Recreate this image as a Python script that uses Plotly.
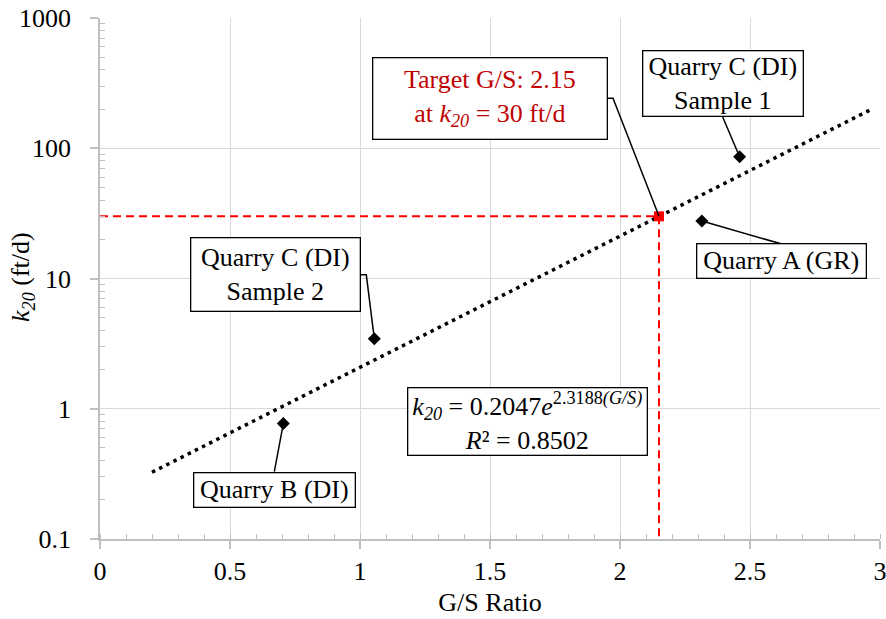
import math
import plotly.graph_objects as go

# Measured samples: G/S ratio vs. k20 (ft/d)
sample_names = ["Quarry B (DI)", "Quarry C (DI)<br>Sample 2", "Quarry A (GR)", "Quarry C (DI)<br>Sample 1"]
gs_ratio = [0.705, 1.055, 2.315, 2.46]
k20 = [0.77, 3.45, 27.6, 86.0]

# Exponential fit k20 = a * exp(b * G/S)
fit_a = 0.2047
fit_b = 2.3188
fit_r2 = 0.8502
fit_x_span = [0.2, 2.97]

# Design target
target_gs = 2.15
target_k20 = 30.0

# Axis ticks
x_ticks = [0, 0.5, 1, 1.5, 2, 2.5, 3]
y_ticks = [0.1, 1, 10, 100, 1000]
y_tick_text = ["0.1", "1", "10", "100", "1000"]

FONT = "'Liberation Serif', 'Times New Roman', Tinos, 'DejaVu Serif', serif"
FS = 26
GRID = "#d9d9d9"
AXIS = "#bfbfbf"

fit_y_span = [fit_a * math.exp(fit_b * x) for x in fit_x_span]

fig = go.Figure()

# Target guide lines
fig.add_trace(go.Scatter(
    x=[0, target_gs, target_gs], y=[target_k20, target_k20, 0.1],
    mode="lines", line=dict(color="#ff0000", width=2, dash="8px,5px"),
    hoverinfo="skip", showlegend=False, cliponaxis=False))

# Trendline (straight on a log axis)
fig.add_trace(go.Scatter(
    x=fit_x_span, y=fit_y_span, mode="lines",
    line=dict(color="black", width=3.5, dash="3.5px,4.5px"),
    showlegend=False))

# Samples
fig.add_trace(go.Scatter(
    x=gs_ratio, y=k20, mode="markers",
    marker=dict(symbol="diamond", size=10, color="black"),
    showlegend=False))

# Target point
fig.add_trace(go.Scatter(
    x=[target_gs], y=[target_k20], mode="markers",
    marker=dict(symbol="square", size=10, color="#ff0000"),
    showlegend=False))

# Label boxes: (text, anchor x, anchor y, xshift, yshift, width, height, color, connector path)
labels = [
    (sample_names[0], gs_ratio[0], k20[0], -9, -66, 162, 35, "black", "M0,0 L-9,-48"),
    (sample_names[1], gs_ratio[1], k20[1], -99, 64, 170, 74, "black", "M0,0 L-8,64 L-14,64"),
    (sample_names[2], gs_ratio[2], k20[2], 80, -40, 170, 35, "black", "M0,0 L80,-23"),
    (sample_names[3], gs_ratio[3], k20[3], -17, 73, 161, 66, "black", "M0,0 L-17,40"),
    ("Target G/S: 2.15<br>at <i>k<sub>20</sub></i> = 30 ft/d", target_gs, target_k20,
     -169, 118, 235, 82, "#c00000", "M0,0 L-46,118 L-52,118"),
]

shapes = []
annotations = []
for text, ax_x, ax_y, dx, dy, w, h, col, path in labels:
    shapes.append(dict(
        type="path", xref="x", yref="y", xsizemode="pixel", ysizemode="pixel",
        xanchor=ax_x, yanchor=ax_y, path=path,
        line=dict(color="black", width=1.5), layer="above"))
    annotations.append(dict(
        text=text, x=ax_x, y=math.log10(ax_y), xref="x", yref="y",
        xshift=dx, yshift=dy, xanchor="center", yanchor="middle",
        showarrow=False, width=w - 4, height=h - 4, borderpad=1,
        bgcolor="white", bordercolor="black", borderwidth=1.3,
        font=dict(family=FONT, size=FS, color=col)))

# Fit equation box
annotations.append(dict(
    text=(f"<i>k<sub>20</sub></i> = {fit_a}<i>e</i><sup>{fit_b}<i>(G/S)</i></sup>"
          f"<br><i>R</i>² = {fit_r2}"),
    x=0.5487, y=0.2246, xref="paper", yref="paper",
    xanchor="center", yanchor="middle", showarrow=False,
    width=236, height=64, borderpad=1,
    bgcolor="white", bordercolor="black", borderwidth=1.3,
    font=dict(family=FONT, size=FS, color="black")))

# Y-axis title, placed as rotated text left of the tick labels
annotations.append(dict(
    text="<i>k<sub>20</sub></i> (ft/d)", x=-0.1, y=0.503,
    xref="paper", yref="paper", xanchor="center", yanchor="middle",
    textangle=-90, showarrow=False,
    font=dict(family=FONT, size=FS, color="black")))

minor_y = [k * 10 ** e for e in range(-1, 3) for k in range(2, 10)]

fig.update_layout(
    width=886, height=619,
    margin=dict(l=100, r=6, t=18, b=80),
    paper_bgcolor="white", plot_bgcolor="white",
    font=dict(family=FONT, size=FS, color="black"),
    shapes=shapes, annotations=annotations,
    xaxis=dict(
        range=[0, 3], tickvals=x_ticks, ticktext=[f"{v:g}" for v in x_ticks],
        showgrid=True, gridcolor=GRID, gridwidth=1, zeroline=False,
        showline=True, linecolor=AXIS, linewidth=1.5,
        ticks="outside", ticklen=8, tickcolor=AXIS, tickwidth=1.5,
        minor=dict(dtick=0.1, ticks="inside", ticklen=5, tickcolor=AXIS, tickwidth=1.3, showgrid=False),
        tickfont=dict(family=FONT, size=FS),
        ticklabeloverflow="allow", automargin=False,
        title=dict(text="G/S Ratio", font=dict(family=FONT, size=FS), standoff=8),
    ),
    yaxis=dict(
        type="log", range=[-1, 3], tickvals=y_ticks, ticktext=y_tick_text,
        showgrid=True, gridcolor=GRID, gridwidth=1, zeroline=False,
        showline=True, linecolor=AXIS, linewidth=1.5,
        ticks="outside", ticklen=8, tickcolor=AXIS, tickwidth=1.5,
        minor=dict(tickvals=minor_y, ticks="inside", ticklen=5, tickcolor=AXIS, tickwidth=1.3, showgrid=False),
        tickfont=dict(family=FONT, size=FS),
        ticklabelstandoff=14, automargin=False,
    ),
)

fig.write_html("out.html")
